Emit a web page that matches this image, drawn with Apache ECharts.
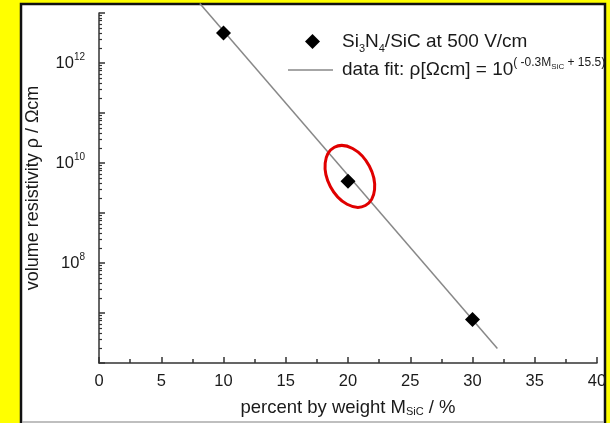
<!DOCTYPE html>
<html>
<head>
<meta charset="utf-8">
<script src="https://cdn.jsdelivr.net/npm/echarts@6/dist/echarts.min.js"></script>
<style>
html,body{margin:0;padding:0;background:#ffff00;}
#chart{width:610px;height:423px;}
</style>
</head>
<body>
<div id="chart"></div>
<script>
// ---- data ----
const massPercent = [10, 20, 30];                 // percent by weight M_SiC
const resistivity = [4.0e12, 4.3e9, 7.4e6];      // volume resistivity (Ω cm)
const fitMass = [8.1, 32];                        // fit line end points (x)
const fitResistivity = [1.55e13, 1.95e6];         // fit line end points (y)
const yLabelValues = [1e8, 1e10, 1e12];           // labelled decades
const yMajorTicks = [1e6, 1e7, 1e8, 1e9, 1e10, 1e11, 1e12, 1e13];
const xTickLabels = ['0', '5', '10', '15', '20', '25', '30', '35', '40'];
const highlightPoint = [20.15, 5.4e9];            // centre of red ellipse annotation
const seriesNames = ['Si3N4/SiC at 500 V/cm', 'data fit'];

const yMinorTicks = [];
for (let e = 6; e < 13; e++) for (let k = 2; k <= 9; k++) yMinorTicks.push(k * Math.pow(10, e));

const FONT = '"Liberation Sans", Arial, sans-serif';
const TXT = '#1a1a1a';
const AX = '#333';

const panel = [
  {type: 'rect', z: -10, shape: {x: 21, y: 4, width: 584, height: 430},
   style: {fill: '#fff', stroke: '#111', lineWidth: 2.5}},
  {type: 'line', z: -9, shape: {x1: 22, y1: 422, x2: 604, y2: 422},
   style: {stroke: '#aaa', lineWidth: 1.5}}
];

const chart = echarts.init(document.getElementById('chart'));
const option = {
  backgroundColor: '#ffff00',
  animation: false,
  textStyle: {fontFamily: FONT},
  grid: {left: 99, right: 13, top: 13, bottom: 60, containLabel: false},
  graphic: panel,
  legend: [
    {data: [seriesNames[0]], left: 305, top: 32, orient: 'vertical', padding: 0,
     itemWidth: 15, itemHeight: 15,
     formatter: () => '{gap|}{b|Si}{sub|3}{b|N}{sub|4}{b|/SiC at 500 V/cm}',
     textStyle: {color: TXT, fontFamily: FONT, rich: {
       gap: {width: 17},
       b: {fontSize: 19, lineHeight: 26, fontFamily: FONT, color: TXT},
       sub: {fontSize: 11, lineHeight: 12, verticalAlign: 'bottom', fontFamily: FONT, color: TXT}
     }}},
    {data: [{name: seriesNames[1], icon: 'rect'}], left: 288, top: 57, orient: 'vertical', padding: 0,
     itemWidth: 45, itemHeight: 1.5,
     itemStyle: {color: '#888'},
     formatter: () => '{gap|}{b|data fit: ρ[Ωcm] = 10}{sup|( -0.3M}{ss|SiC}{sup| + 15.5)}',
     textStyle: {color: TXT, fontFamily: FONT, rich: {
       gap: {width: 4},
       b: {fontSize: 19, lineHeight: 26, fontFamily: FONT, color: TXT},
       sup: {fontSize: 12, lineHeight: 14, verticalAlign: 'top', fontFamily: FONT, color: TXT},
       ss: {fontSize: 8, lineHeight: 14, verticalAlign: 'top', padding: [6, 0, 0, 0], fontFamily: FONT, color: TXT}
     }}}
  ],
  xAxis: {
    type: 'value', min: 0, max: 40, interval: 5,
    name: 'percent by weight M{sub|SiC} / %', nameLocation: 'middle', nameGap: 35,
    nameTextStyle: {fontSize: 18.5, color: TXT, fontFamily: FONT, rich: {
      sub: {fontSize: 11, verticalAlign: 'bottom', lineHeight: 10, fontFamily: FONT, color: TXT}
    }},
    axisLine: {lineStyle: {color: AX, width: 1.5}},
    axisTick: {inside: true, length: 6, lineStyle: {color: AX, width: 1.5}},
    minorTick: {show: true, splitNumber: 2, length: 4, lineStyle: {color: AX, width: 1.5}},
    splitLine: {show: false},
    axisLabel: {fontSize: 16.5, color: TXT, margin: 10, fontFamily: FONT,
      formatter: (v) => xTickLabels[Math.round(v / 5)]}
  },
  yAxis: [
    {
      type: 'log', min: 1e6, max: 1e13, position: 'left',
      name: 'volume resistivity ρ / Ωcm', nameLocation: 'middle', nameGap: 57,
      nameTextStyle: {fontSize: 18, color: TXT, fontFamily: FONT},
      axisLine: {show: true, lineStyle: {color: AX, width: 1.5}},
      axisTick: {show: true, inside: true, length: 6, customValues: yMajorTicks, lineStyle: {color: AX, width: 1.5}},
      splitLine: {show: false},
      axisLabel: {customValues: yLabelValues, margin: 14, fontFamily: FONT,
        formatter: (v) => '{b|10}{sup|' + Math.round(Math.log10(v)) + '}',
        rich: {
          b: {fontSize: 16.5, lineHeight: 22, color: TXT, fontFamily: FONT},
          sup: {fontSize: 10, lineHeight: 12, verticalAlign: 'top', color: TXT, fontFamily: FONT}
        }}
    },
    {
      type: 'log', min: 1e6, max: 1e13, position: 'left', offset: 0,
      axisLine: {show: false},
      axisTick: {show: true, inside: true, length: 3, customValues: yMinorTicks, lineStyle: {color: AX, width: 1.2}},
      axisLabel: {show: false},
      splitLine: {show: false}
    }
  ],
  series: [
    {
      name: seriesNames[0], type: 'scatter', symbol: 'diamond', symbolSize: 15, z: 5,
      itemStyle: {color: '#000', opacity: 1},
      data: massPercent.map((m, i) => [m, resistivity[i]])
    },
    {
      name: seriesNames[1], type: 'line', symbol: 'none', clip: false, z: 3,
      lineStyle: {color: '#888', width: 1.5},
      itemStyle: {color: '#888'},
      data: fitMass.map((m, i) => [m, fitResistivity[i]])
    }
  ]
};
chart.setOption(option);

const c = chart.convertToPixel({xAxisIndex: 0, yAxisIndex: 0}, highlightPoint);
chart.setOption({
  graphic: panel.concat([
    {type: 'ellipse', z: 100, x: c[0], y: c[1], rotation: 28 * Math.PI / 180,
     shape: {cx: 0, cy: 0, rx: 22, ry: 33},
     style: {fill: 'none', stroke: '#e00000', lineWidth: 3}}
  ])
});
</script>
</body>
</html>
